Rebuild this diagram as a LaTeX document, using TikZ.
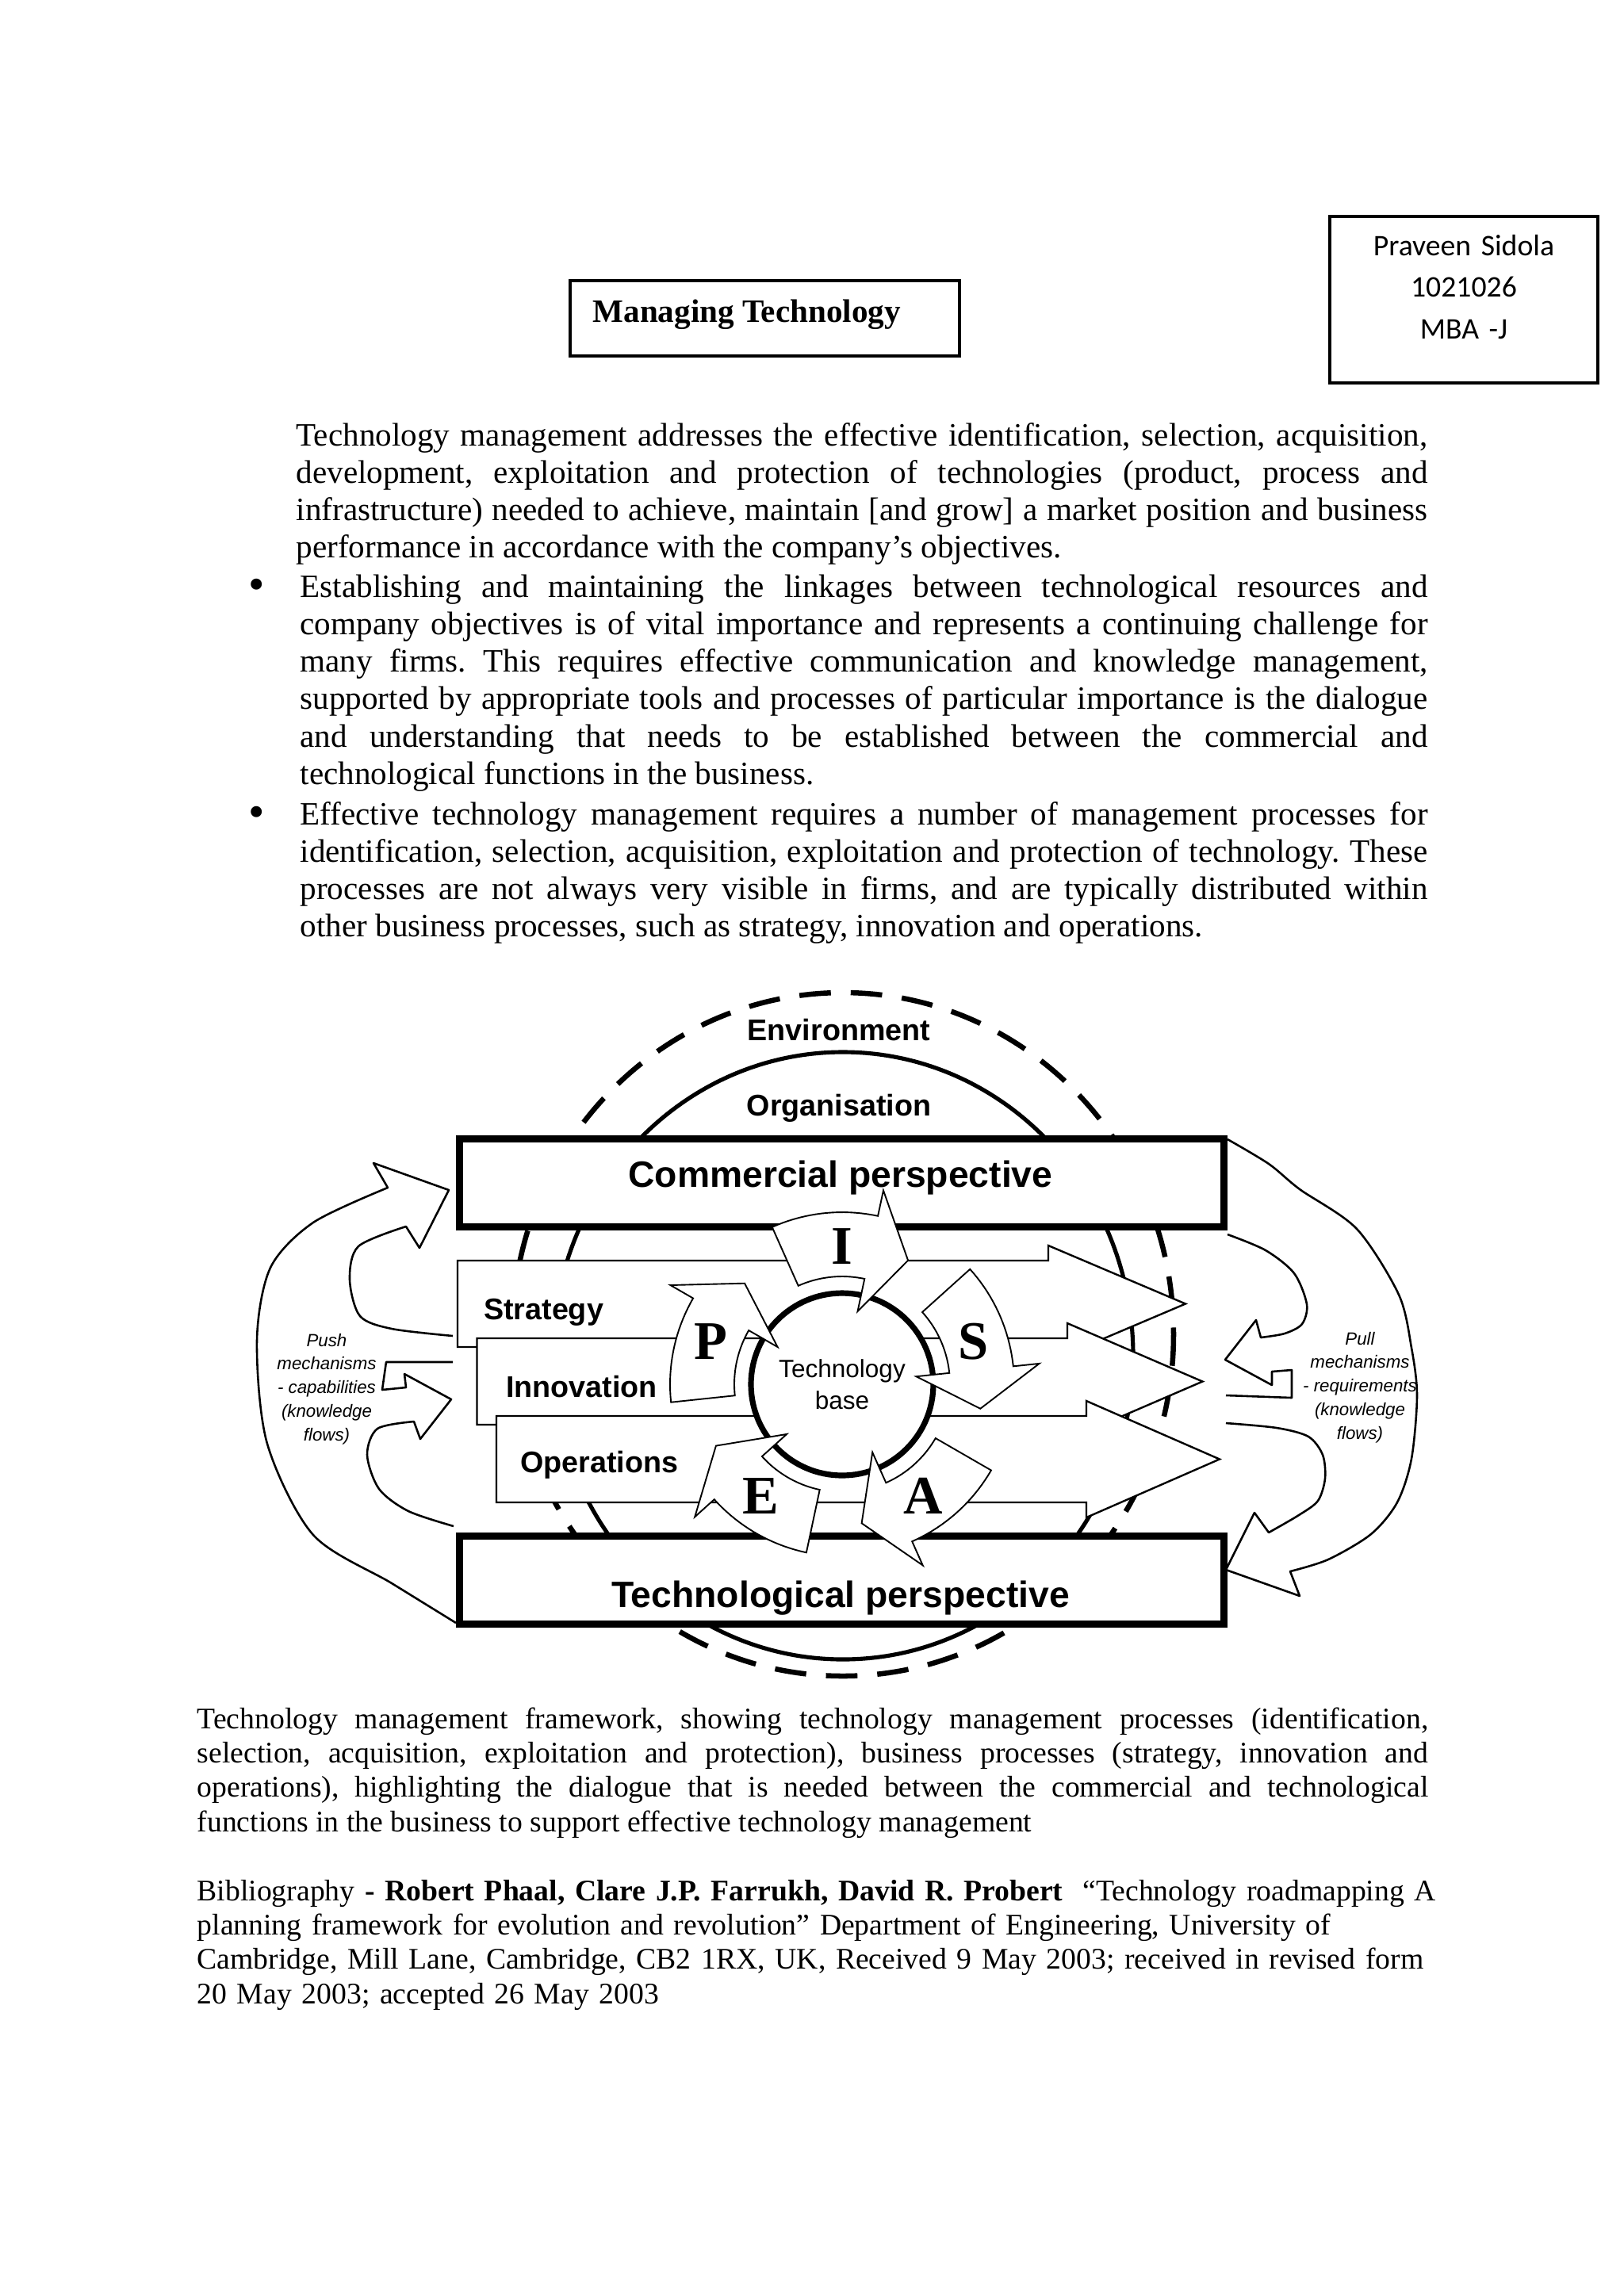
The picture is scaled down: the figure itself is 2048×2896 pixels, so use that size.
\documentclass[tikz,border=0pt]{standalone}
\usepackage{fontspec}
\setmainfont{Liberation Serif}
\setsansfont{Liberation Sans}
\newfontfamily\calibrifont{Carlito}
\tolerance=10000
\hyphenpenalty=10000
\frenchspacing

\begin{document}
\begin{tikzpicture}[
    x=0.01025390625cm, y=-0.01025390625cm,
    bodytext/.style={inner sep=0pt, align=justify, font=\fontsize{12}{13.8}\selectfont},
    captext/.style={inner sep=0pt, align=justify, font=\fontsize{11}{12.65}\selectfont},
    bibtext/.style={inner sep=0pt, align=left, font=\fontsize{11}{12.65}\selectfont},
    bulletdot/.style={inner sep=0pt, font=\fontsize{17}{17}\selectfont},
    hdrbox/.style={draw, line width=0.9pt, inner sep=0pt},
    persp/.style={draw, line width=2.6pt, fill=white, minimum width=9.885cm, minimum height=1.138cm, inner sep=0pt},
    plbl/.style={anchor=base, font=\sffamily\bfseries\fontsize{13.5}{16}\selectfont},
    ringlbl/.style={anchor=base, font=\sffamily\bfseries\fontsize{11}{13}\selectfont},
    proc/.style={draw, line width=0.7pt, fill=white},
    proclbl/.style={anchor=base west, font=\sffamily\bfseries\fontsize{11}{13}\selectfont},
    techbase/.style={circle, draw, line width=2.1pt, fill=white, minimum size=2.358cm, inner sep=0pt, align=center, font=\sffamily\fontsize{9.2}{11.6}\selectfont},
    tmproc/.style={draw, line width=0.55pt, fill=white},
    tmltr/.style={font=\bfseries\fontsize{20}{24}\selectfont},
    flow/.style={line width=0.75pt, line join=round},
    mech/.style={align=center, font=\sffamily\itshape\fontsize{6.5}{8.7}\selectfont},
  ]
    \fill[white] (0,0) rectangle (2048,2896);
    \useasboundingbox (0,0) rectangle (2048,2896);

    % header
    \node[hdrbox, minimum width=3.466cm, minimum height=2.153cm] (idbox) at (1846,378) {};
    \node[anchor=base, text width=3.2cm, align=center, inner sep=0pt,
          font=\calibrifont\fontsize{11}{15.4}\selectfont] (id) at (1846,322) {Praveen Sidola\\1021026\\MBA -J};
    \node[hdrbox, minimum width=5.035cm, minimum height=0.974cm] (titlebox) at (964.5,401.5) {};
    \node[anchor=base west, inner sep=0pt, font=\bfseries\fontsize{12}{14}\selectfont] (title) at (747,406) {Managing Technology};

    % text
    \node[bodytext, anchor=base west, text width=14.63cm] (intro) at (373,562) {Technology management addresses the effective identification, selection, acquisition,\linebreak
      development, exploitation and protection of technologies (product, process and\linebreak
      infrastructure) needed to achieve, maintain [and grow] a market position and business\linebreak
      performance in accordance with the company’s objectives.};
    \node[bulletdot] (dot1) at (324,743) {\textbullet};
    \node[bodytext, anchor=base west, text width=14.58cm] (item1) at (378,753) {Establishing and maintaining the linkages between technological resources and\linebreak
      company objectives is of vital importance and represents a continuing challenge for\linebreak
      many firms. This requires effective communication and knowledge management,\linebreak
      supported by appropriate tools and processes of particular importance is the dialogue\linebreak
      and understanding that needs to be established between the commercial and\linebreak
      technological functions in the business.};
    \node[bulletdot] (dot2) at (324,1030) {\textbullet};
    \node[bodytext, anchor=base west, text width=14.58cm] (item2) at (378,1040) {Effective technology management requires a number of management processes for\linebreak
      identification, selection, acquisition, exploitation and protection of technology. These\linebreak
      processes are not always very visible in firms, and are typically distributed within\linebreak
      other business processes, such as strategy, innovation and operations.};

    % environment / organisation
    \draw[line width=1.9pt, dash pattern=on 11.6pt off 7.3pt] (1063,1683) ellipse [x radius=417, y radius=431];
    \draw[line width=1.5pt] (1063,1710) ellipse [x radius=366, y radius=383];

    % business processes
    \foreach \i/\nm/\lbl/\lx/\ly in {0/strat/Strategy/598/1664, 1/innov/Innovation/626/1762, 2/oper/Operations/644/1857} {
      \draw[proc] (577+24.5*\i, 1590+98*\i) -- (1322+24*\i, 1590+98*\i) -- ++(0,-19)
        -- (1495+21.5*\i, 1644.5+98*\i) -- (1322+24*\i, 1718+98*\i) -- ++(0,-19)
        -- (577+24.5*\i, 1699+98*\i) -- cycle;
      \node[proclbl] (\nm) at (\lx,\ly) {\lbl};
    }

    % perspectives
    \node[persp] (commercial) at (1061.5,1492) {};
    \node[plbl] (commtext) at (1060,1497) {Commercial perspective};
    \node[persp] (technological) at (1061.5,1993) {};
    \node[plbl] (techtext) at (1060,2027) {Technological perspective};

    % push mechanisms
    \draw[flow] plot[smooth] coordinates {(575,2047) (494,1997) (395,1936) (337,1821) (324,1691) (341,1599) (395,1542) (489,1498)}
      -- (471,1467) -- (566,1501) -- (529,1574) -- (512,1547)
      -- plot[smooth] coordinates {(512,1547) (452,1572) (441,1614) (454,1660) (494,1676) (571,1685)};
    \draw[flow] (571,1718) -- (487,1718) -- (482,1753) -- (512,1750) -- (510,1733) -- (569,1765) -- (530,1815) -- (522,1793)
      -- plot[smooth] coordinates {(522,1793) (476,1802) (463,1835) (478,1878) (515,1906) (572,1925)};

    % pull mechanisms
    \draw[flow] plot[smooth] coordinates {(1548,1557) (1596,1577) (1632,1606) (1648,1645) (1642,1670) (1620,1682) (1590,1687)}
      -- (1584,1665) -- (1545,1715) -- (1604,1747) -- (1604,1730) -- (1629,1728) -- (1629,1763) -- (1546,1760);
    \draw[flow] plot[smooth] coordinates {(1546,1795) (1610,1801) (1650,1812) (1668,1835) (1671,1865) (1662,1893) (1638,1911) (1600,1933)}
      -- (1582,1908) -- (1546,1980) -- (1639,2013) -- (1627,1982)
      -- plot[smooth] coordinates {(1627,1982) (1675,1967) (1729,1935) (1762,1895) (1780,1840) (1787,1760) (1780,1700) (1764,1633) (1711,1550) (1639,1500) (1600,1468) (1548,1437)};

    % technology base and I S A E P
    \node[techbase] (tbase) at (1062,1746) {Technology\\base};
    \begin{scope}[shift={(tbase.center)}]
      \foreach \a/\ltr in {-114/I, -42/S, 30/A, 102/E, 174/P} {
        \draw[tmproc] plot[domain=\a:\a+36, samples=20] (\x:217)
          -- (\a+36:250) -- (\a+52:177) -- (\a+36:94) -- (\a+36:136)
          -- plot[domain=\a+36:\a, samples=20] (\x:136) -- cycle;
        \node[tmltr] (ltr\ltr) at (\a+24:174) {\ltr};
      }
    \end{scope}

    % labels
    \node[ringlbl] (env) at (1058,1312) {Environment};
    \node[ringlbl] (org) at (1058,1407) {Organisation};
    \node[mech] (push) at (412,1752) {Push\\mechanisms\\- capabilities\\(knowledge\\flows)};
    \node[mech] (pull) at (1715,1750) {Pull\\mechanisms\\- requirements\\(knowledge\\flows)};

    % caption and bibliography
    \node[captext, anchor=base west, text width=15.92cm] (caption) at (248,2180) {Technology management framework, showing technology management processes (identification,\linebreak
      selection, acquisition, exploitation and protection), business processes (strategy, innovation and\linebreak
      operations), highlighting the dialogue that is needed between the commercial and technological\linebreak
      functions in the business to support effective technology management};
    \node[bibtext, anchor=base west, text width=16.5cm] (biblio) at (248,2397) {Bibliography \textbf{- Robert Phaal, Clare J.P. Farrukh, David R. Probert}\ \ “Technology roadmapping A\\
      planning framework for evolution and revolution” Department of Engineering, University of\\
      Cambridge, Mill Lane, Cambridge, CB2 1RX, UK, Received 9 May 2003; received in revised form\\
      20 May 2003; accepted 26 May 2003};
  \end{tikzpicture}
\end{document}
